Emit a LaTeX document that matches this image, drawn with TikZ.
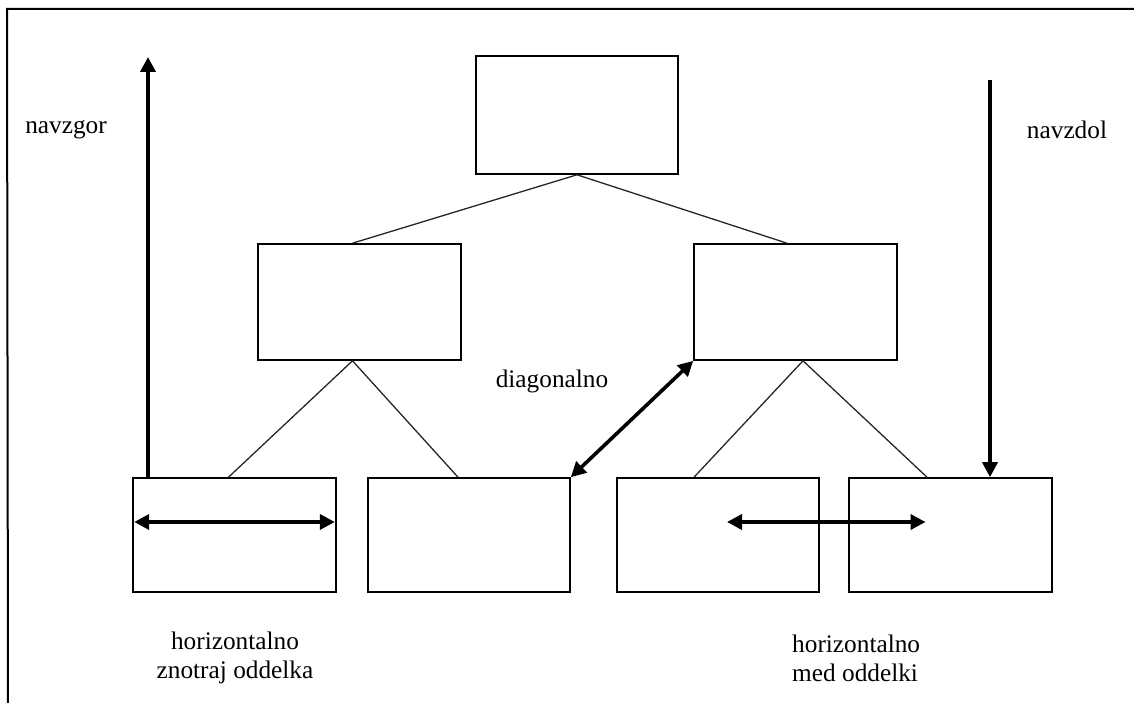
\documentclass[tikz,border=0pt]{standalone}
\usepackage{fontspec}
\setmainfont{Liberation Serif}
\usetikzlibrary{arrows.meta,calc}
\begin{document}
\begin{tikzpicture}[x=1pt,y=-1pt,
  box/.style={draw,line width=1.6pt,rectangle,inner sep=0pt},
  link/.style={line width=1.3pt,draw=black!85},
  bigarrow/.style={line width=3.6pt,-{Triangle[length=15pt,width=15pt]}},
  dblarrow/.style={line width=3.6pt,{Triangle[length=15pt,width=15pt]}-{Triangle[length=15pt,width=15pt]}},
  lbl/.style={font=\fontsize{25.3}{29}\selectfont,inner sep=0pt}]
\useasboundingbox (0,0) rectangle (1134,703);
% frame
\coordinate (fa) at (7,9);
\coordinate (fb) at (1134,9);
\coordinate (fc) at (8,703);
\draw[line width=2pt] (fb) -- (fa) -- (fc);
% boxes
\node[box,minimum width=202pt,minimum height=118pt] (top) at (577,115) {};
\node[box,minimum width=203pt,minimum height=116pt] (ml) at (359.5,302) {};
\node[box,minimum width=203pt,minimum height=116pt] (mr) at (795.5,302) {};
\node[box,minimum width=203pt,minimum height=114pt] (b1) at (234.5,535) {};
\node[box,minimum width=202pt,minimum height=114pt] (b2) at (469,535) {};
\node[box,minimum width=202pt,minimum height=114pt] (b3) at (718,535) {};
\node[box,minimum width=203pt,minimum height=114pt] (b4) at (950.5,535) {};
% tree links
\draw[link] ([xshift=-7pt]ml.north) -- (top.south) -- ([xshift=-8.5pt]mr.north);
\draw[link] ([xshift=-6pt]b1.north) -- ([xshift=-7pt]ml.south) -- ([xshift=-11pt]b2.north);
\draw[link] ([xshift=-24pt]b3.north) -- ([xshift=7.5pt]mr.south) -- ([xshift=-23.5pt]b4.north);
% arrows
\coordinate (upend) at (148,57);
\coordinate (downstart) at (990,80);
\draw[bigarrow] ([xshift=-86.5pt]b1.north) -- (upend);
\draw[bigarrow] (downstart) -- ([xshift=39.5pt]b4.north);
\draw[dblarrow] ([xshift=2pt,yshift=13pt]b1.west) -- ([xshift=-2pt,yshift=13pt]b1.east);
\draw[dblarrow] ([xshift=9pt,yshift=13pt]b3.center) -- ([xshift=-25pt,yshift=13pt]b4.center);
\draw[dblarrow] (b2.north east) -- (mr.south west);
% labels
\node[lbl] (up) at (66,130) {navzgor};
\node[lbl] (down) at (1067,130) {navzdol};
\node[lbl] (diag) at (552,381) {diagonalno};
\node[lbl,align=center] (hin) at (235,658) {horizontalno\\znotraj oddelka};
\node[lbl,align=left,anchor=west] (hmed) at (792,658) {horizontalno\\med oddelki};
\end{tikzpicture}
\end{document}
